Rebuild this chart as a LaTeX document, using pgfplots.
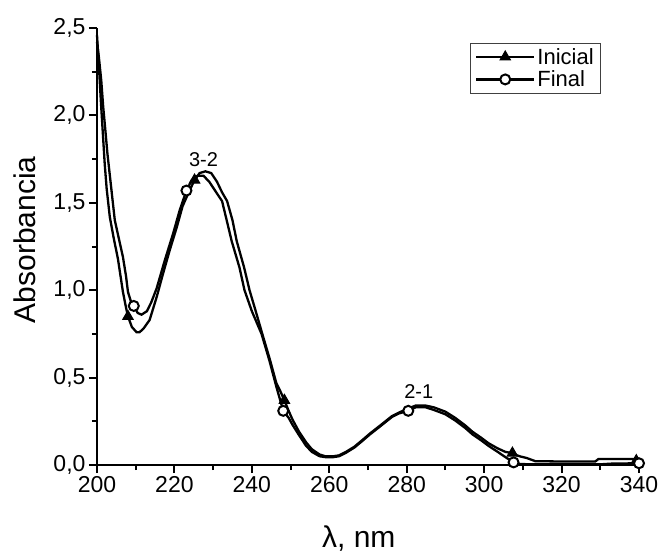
\documentclass[border=0pt]{standalone}
\usepackage{fontspec}
\setmainfont{Liberation Sans}
\usepackage{pgfplots}
\pgfplotsset{compat=1.18}
\pgfplotsset{
  linemarklegend/.style={legend image code/.code={%
    \draw[line width=2.3pt] (0pt,0pt)--(58pt,0pt);
    \draw[##1] plot coordinates {(29pt,0pt)};}}
}

\begin{document}
\begin{tikzpicture}
\begin{axis}[
  width=542pt, height=437pt, scale only axis,
  xmin=200, xmax=340, ymin=0, ymax=2.5,
  clip=false,
  axis x line*=bottom, axis y line*=left,
  axis line style={line width=2.5pt, black},
  xtick={200,220,240,260,280,300,320,340},
  ytick={0,0.5,1,1.5,2,2.5},
  minor x tick num=1, minor y tick num=1,
  tick align=outside,
  major tick length=8pt, minor tick length=5pt,
  every tick/.style={line width=2pt, black},
  /pgf/number format/assume math mode=true,
  tick label style={font=\fontsize{23}{27}\selectfont},
  yticklabel style={/pgf/number format/.cd, fixed, fixed zerofill, precision=1, use comma},
  xticklabel style={/pgf/number format/.cd, fixed, precision=0, 1000 sep={}},
  ylabel={Absorbancia},
  ylabel style={at={(axis description cs:-0.133,0.515)}, anchor=center, font=\fontsize{30}{34}\selectfont},
  xlabel={λ, nm},
  xlabel style={at={(axis description cs:0.483,0)}, anchor=base, yshift=-82pt, font=\fontsize{30}{34}\selectfont},
  legend style={at={(0.930,0.966)}, anchor=north east, draw=black!75, line width=0.8pt,
    font=\fontsize{22}{26}\selectfont, inner xsep=5pt, inner ysep=3pt, row sep=1pt,
    nodes={inner sep=2pt}},
  legend cell align=left,
]
% Inicial line
\addplot[black, line width=2.3pt, forget plot] coordinates {
(200,2.46) (200.5,2.28) (201,2.08) (201.5,1.90) (202,1.72) (202.5,1.58) (203.3,1.42)
(204.3,1.30) (205.4,1.18) (206.7,0.99) (207.5,0.90) (208,0.85) (209,0.79) (210.2,0.76)
(211,0.76) (212,0.78) (213.6,0.83) (215.4,0.96) (217,1.09) (218.8,1.23) (220.6,1.36)
(222.1,1.48) (223.9,1.57) (225.2,1.63) (226.5,1.67) (228,1.68) (229.5,1.67) (231,1.62)
(232.3,1.56) (233.6,1.51) (235,1.40) (236.1,1.28) (238,1.13) (239.4,1.00) (241,0.88)
(242.7,0.75) (244.7,0.60) (246.3,0.47) (247.4,0.42) (248.4,0.37)
(249.5,0.31) (250.5,0.26) (252.2,0.19) (254,0.13) (255.5,0.09) (257.5,0.06) (259,0.05)
(261,0.05) (262.5,0.055) (264.3,0.075) (266.5,0.105) (268.4,0.14) (270.5,0.18) (272.8,0.22)
(274.5,0.25) (276.2,0.28) (278,0.30) (280,0.32) (282.3,0.34) (284.9,0.34) (287,0.33)
(290,0.305) (292.5,0.27) (295.2,0.225) (297,0.19) (299.3,0.155) (301.1,0.125) (303.5,0.095)
(305.5,0.075) (307.3,0.068) (308.5,0.055) (309.5,0.048) (311,0.04) (313.2,0.022) (320,0.02)
(328.7,0.02) (329.5,0.034) (338.7,0.034) (339.3,0.025)
};
% Final line
\addplot[black, line width=2.3pt, forget plot] coordinates {
(200,2.42) (200.5,2.33) (201.1,2.20) (201.6,2.05) (202.1,1.93) (202.7,1.78) (203.3,1.66)
(203.8,1.56) (204.6,1.40) (205.6,1.30) (206.7,1.19) (207.5,1.08) (208,0.99) (208.7,0.94)
(209.5,0.91) (210.5,0.87) (211.5,0.86) (212.9,0.88) (214,0.93) (215.4,1.01) (217.5,1.17)
(219.6,1.32) (221.4,1.46) (223.1,1.57) (224.5,1.63) (226,1.655) (227.5,1.655) (229,1.62)
(230.5,1.57) (232.3,1.51) (233.5,1.40) (234.8,1.28) (236.8,1.13) (238.1,1.00) (240,0.88)
(242.5,0.75) (244.5,0.60) (246.3,0.45) (248.1,0.31)
(249.5,0.27) (250.5,0.23) (252.2,0.17) (254,0.11) (255.5,0.075) (257.5,0.05) (259,0.045)
(261,0.045) (262.5,0.05) (264.3,0.07) (266.5,0.10) (268.4,0.135) (270.5,0.175) (272.8,0.215)
(274.5,0.245) (276.2,0.275) (278,0.295) (280.4,0.31) (282.3,0.33) (284.9,0.33) (287,0.315)
(290,0.29) (292.5,0.255) (295.2,0.21) (297,0.175) (299.3,0.14) (301.1,0.11) (303.5,0.075)
(305.5,0.045) (307.6,0.015) (309,0.006) (312,0.004) (330,0.004) (333,0.008) (340,0.01)
};
% Inicial markers
\addplot[only marks, mark=triangle*, mark size=6pt, mark options={fill=black, draw=black, line width=1pt}, linemarklegend]
  coordinates {(208,0.85) (225.2,1.63) (248.4,0.37) (307.3,0.068) (339.3,0.025)};
\addlegendentry{Inicial}
% Final markers
\addplot[only marks, mark=*, mark size=5pt, mark options={fill=white, draw=black, line width=2pt}, linemarklegend]
  coordinates {(209.5,0.91) (223.1,1.57) (248.1,0.31) (280.4,0.31) (307.6,0.015) (340,0.01)};
\addlegendentry{Final}
\node[font=\fontsize{20}{24}\selectfont] at (axis cs:227.5,1.746) {3-2};
\node[font=\fontsize{20}{24}\selectfont] at (axis cs:283.1,0.42) {2-1};
\end{axis}
\pgfresetboundingbox
\path[use as bounding box] (-97pt,-87pt) rectangle (561pt,465pt);
\end{tikzpicture}
\end{document}
